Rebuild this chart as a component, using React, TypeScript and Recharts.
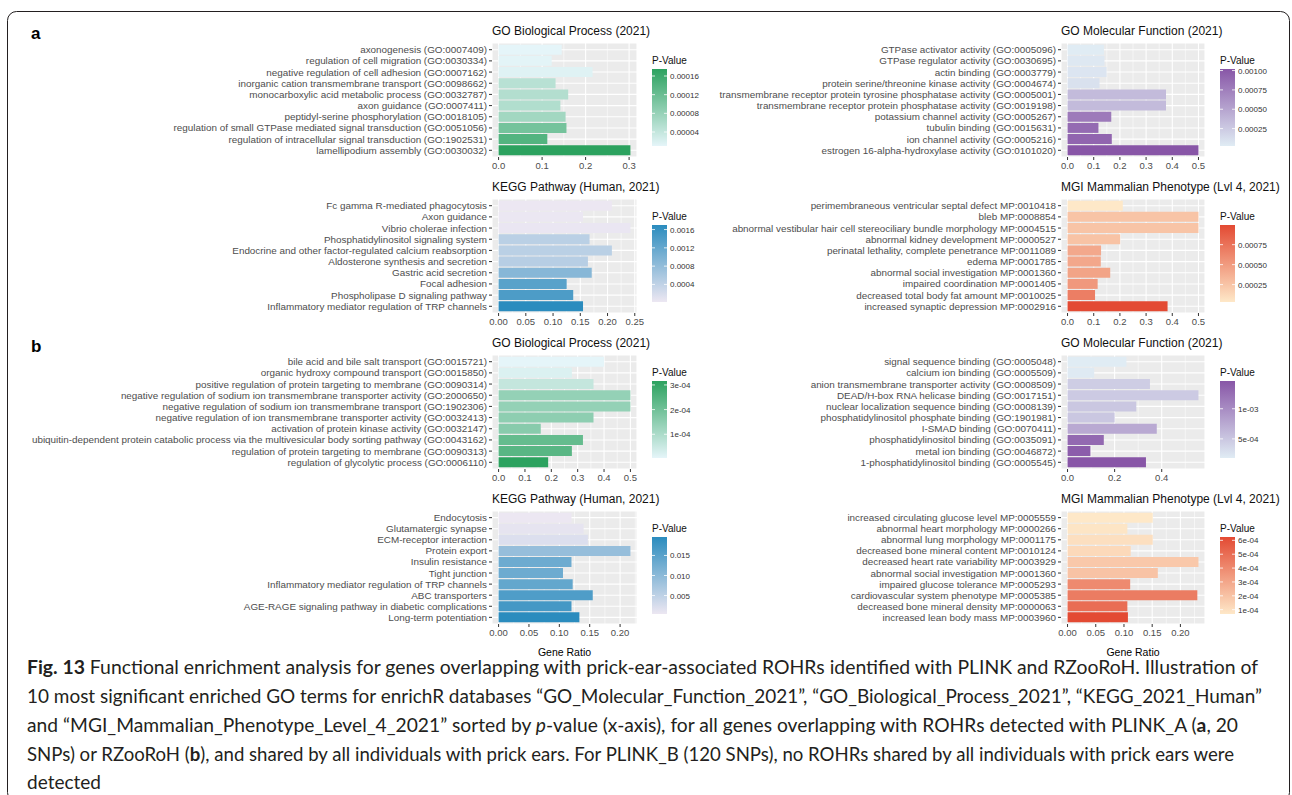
import React from 'react';
import { BarChart, Bar, XAxis, YAxis, CartesianGrid, Cell, Label } from 'recharts';

// ---------------- data: (a) PLINK_A ----------------
const aBpTerms = [
  'axonogenesis (GO:0007409)',
  'regulation of cell migration (GO:0030334)',
  'negative regulation of cell adhesion (GO:0007162)',
  'inorganic cation transmembrane transport (GO:0098662)',
  'monocarboxylic acid metabolic process (GO:0032787)',
  'axon guidance (GO:0007411)',
  'peptidyl-serine phosphorylation (GO:0018105)',
  'regulation of small GTPase mediated signal transduction (GO:0051056)',
  'regulation of intracellular signal transduction (GO:1902531)',
  'lamellipodium assembly (GO:0030032)',
];
const aBpRatio = [0.145, 0.122, 0.216, 0.131, 0.16, 0.142, 0.154, 0.156, 0.112, 0.303];
const aBpPval = [0.00001, 0.000012, 0.000015, 0.00005, 0.000055, 0.000056, 0.00007, 0.00011, 0.00014, 0.000175];

const aMfTerms = [
  'GTPase activator activity (GO:0005096)',
  'GTPase regulator activity (GO:0030695)',
  'actin binding (GO:0003779)',
  'protein serine/threonine kinase activity (GO:0004674)',
  'transmembrane receptor protein tyrosine phosphatase activity (GO:0005001)',
  'transmembrane receptor protein phosphatase activity (GO:0019198)',
  'potassium channel activity (GO:0005267)',
  'tubulin binding (GO:0015631)',
  'ion channel activity (GO:0005216)',
  'estrogen 16-alpha-hydroxylase activity (GO:0101020)',
];
const aMfRatio = [0.139, 0.141, 0.149, 0.122, 0.376, 0.376, 0.167, 0.118, 0.169, 0.5];
const aMfPval = [0.000025, 0.00005, 0.00007, 0.0001, 0.00035, 0.00035, 0.00078, 0.00088, 0.00092, 0.00102];

const aKeggTerms = [
  'Fc gamma R-mediated phagocytosis',
  'Axon guidance',
  'Vibrio cholerae infection',
  'Phosphatidylinositol signaling system',
  'Endocrine and other factor-regulated calcium reabsorption',
  'Aldosterone synthesis and secretion',
  'Gastric acid secretion',
  'Focal adhesion',
  'Phospholipase D signaling pathway',
  'Inflammatory mediator regulation of TRP channels',
];
const aKeggRatio = [0.208, 0.155, 0.242, 0.167, 0.208, 0.164, 0.171, 0.125, 0.137, 0.155];
const aKeggPval = [0.000015, 0.00002, 0.00003, 0.00045, 0.00045, 0.00048, 0.0009, 0.0013, 0.0014, 0.0017];

const aMgiTerms = [
  'perimembraneous ventricular septal defect MP:0010418',
  'bleb MP:0008854',
  'abnormal vestibular hair cell stereociliary bundle morphology MP:0004515',
  'abnormal kidney development MP:0000527',
  'perinatal lethality, complete penetrance MP:0011089',
  'edema MP:0001785',
  'abnormal social investigation MP:0001360',
  'impaired coordination MP:0001405',
  'decreased total body fat amount MP:0010025',
  'increased synaptic depression MP:0002916',
];
const aMgiRatio = [0.211, 0.5, 0.5, 0.201, 0.128, 0.127, 0.163, 0.115, 0.105, 0.382];
const aMgiPval = [0.0000325, 0.00025, 0.00025, 0.00026, 0.00042, 0.00043, 0.00045, 0.00052, 0.00068, 0.000996];

// ---------------- data: (b) RZooRoH ----------------
const bBpTerms = [
  'bile acid and bile salt transport (GO:0015721)',
  'organic hydroxy compound transport (GO:0015850)',
  'positive regulation of protein targeting to membrane (GO:0090314)',
  'negative regulation of sodium ion transmembrane transporter activity (GO:2000650)',
  'negative regulation of sodium ion transmembrane transport (GO:1902306)',
  'negative regulation of ion transmembrane transporter activity (GO:0032413)',
  'activation of protein kinase activity (GO:0032147)',
  'ubiquitin-dependent protein catabolic process via the multivesicular body sorting pathway (GO:0043162)',
  'regulation of protein targeting to membrane (GO:0090313)',
  'regulation of glycolytic process (GO:0006110)',
];
const bBpRatio = [0.4, 0.278, 0.36, 0.5, 0.5, 0.36, 0.16, 0.32, 0.278, 0.188];
const bBpPval = [0.0000037, 0.00002, 0.00006, 0.00014, 0.00014, 0.00015, 0.00016, 0.00022, 0.00024, 0.000316];

const bMfTerms = [
  'signal sequence binding (GO:0005048)',
  'calcium ion binding (GO:0005509)',
  'anion transmembrane transporter activity (GO:0008509)',
  'DEAD/H-box RNA helicase binding (GO:0017151)',
  'nuclear localization sequence binding (GO:0008139)',
  'phosphatidylinositol phosphate binding (GO:1901981)',
  'I-SMAD binding (GO:0070411)',
  'phosphatidylinositol binding (GO:0035091)',
  'metal ion binding (GO:0046872)',
  '1-phosphatidylinositol binding (GO:0005545)',
];
const bMfRatio = [0.25, 0.113, 0.35, 0.556, 0.292, 0.2, 0.379, 0.154, 0.097, 0.333];
const bMfPval = [0.000183, 0.0002, 0.00045, 0.00047, 0.0005, 0.0005, 0.00075, 0.0013, 0.0014, 0.00146];

const bKeggTerms = [
  'Endocytosis',
  'Glutamatergic synapse',
  'ECM-receptor interaction',
  'Protein export',
  'Insulin resistance',
  'Tight junction',
  'Inflammatory mediator regulation of TRP channels',
  'ABC transporters',
  'AGE-RAGE signaling pathway in diabetic complications',
  'Long-term potentiation',
];
const bKeggRatio = [0.12, 0.14, 0.147, 0.217, 0.12, 0.106, 0.122, 0.155, 0.12, 0.133];
const bKeggPval = [0.0004, 0.001, 0.002, 0.009, 0.013, 0.013, 0.014, 0.016, 0.017, 0.0196];

const bMgiTerms = [
  'increased circulating glucose level MP:0005559',
  'abnormal heart morphology MP:0000266',
  'abnormal lung morphology MP:0001175',
  'decreased bone mineral content MP:0010124',
  'decreased heart rate variability MP:0003929',
  'abnormal social investigation MP:0001360',
  'impaired glucose tolerance MP:0005293',
  'cardiovascular system phenotype MP:0005385',
  'decreased bone mineral density MP:0000063',
  'increased lean body mass MP:0003960',
];
const bMgiRatio = [0.151, 0.106, 0.151, 0.112, 0.232, 0.16, 0.111, 0.23, 0.106, 0.107];
const bMgiPval = [0.000069, 0.00008, 0.0001, 0.00012, 0.00018, 0.0002, 0.0004, 0.00045, 0.0005, 0.000624];

// ---------------- axis ticks ----------------
const ticksTenth3 = [0, 0.1, 0.2, 0.3];
const labelsTenth3 = ['0.0', '0.1', '0.2', '0.3'];
const minorTenth3 = [0.05, 0.15, 0.25];
const ticksTenth5 = [0, 0.1, 0.2, 0.3, 0.4, 0.5];
const labelsTenth5 = ['0.0', '0.1', '0.2', '0.3', '0.4', '0.5'];
const minorTenth5 = [0.05, 0.15, 0.25, 0.35, 0.45];
const ticksFifth = [0, 0.2, 0.4];
const labelsFifth = ['0.0', '0.2', '0.4'];
const minorFifth = [0.1, 0.3, 0.5];
const ticksTwentieth5 = [0, 0.05, 0.1, 0.15, 0.2, 0.25];
const labelsTwentieth5 = ['0.00', '0.05', '0.10', '0.15', '0.20', '0.25'];
const minorTwentieth5 = [0.025, 0.075, 0.125, 0.175, 0.225];
const ticksTwentieth4 = [0, 0.05, 0.1, 0.15, 0.2];
const labelsTwentieth4 = ['0.00', '0.05', '0.10', '0.15', '0.20'];
const minorTwentieth4 = [0.025, 0.075, 0.125, 0.175, 0.225];

// colour-bar breaks
const aBpLegTicks = [0.00004, 0.00008, 0.00012, 0.00016];
const aBpLegLabels = ['0.00004', '0.00008', '0.00012', '0.00016'];
const aMfLegTicks = [0.00025, 0.0005, 0.00075, 0.001];
const aMfLegLabels = ['0.00025', '0.00050', '0.00075', '0.00100'];
const aKeggLegTicks = [0.0004, 0.0008, 0.0012, 0.0016];
const aKeggLegLabels = ['0.0004', '0.0008', '0.0012', '0.0016'];
const aMgiLegTicks = [0.00025, 0.0005, 0.00075];
const aMgiLegLabels = ['0.00025', '0.00050', '0.00075'];
const bBpLegTicks = [0.0001, 0.0002, 0.0003];
const bBpLegLabels = ['1e-04', '2e-04', '3e-04'];
const bMfLegTicks = [0.0005, 0.001];
const bMfLegLabels = ['5e-04', '1e-03'];
const bKeggLegTicks = [0.005, 0.01, 0.015];
const bKeggLegLabels = ['0.005', '0.010', '0.015'];
const bMgiLegTicks = [0.0001, 0.0002, 0.0003, 0.0004, 0.0005, 0.0006];
const bMgiLegLabels = ['1e-04', '2e-04', '3e-04', '4e-04', '5e-04', '6e-04'];

// sequential palettes (low -> high p-value)
const GREEN = ['#e5f5f9', '#2ca25f'];
const PURPLE = ['#e0ecf4', '#8856a7'];
const BLUE = ['#ece7f2', '#2b8cbe'];
const ORANGE = ['#fee8c8', '#e34a33'];

// ---------------- helpers ----------------
const FONT = '"Liberation Sans", Arial, Helvetica, sans-serif';

function hexToRgb(hex: string): number[] {
  const n = parseInt(hex.slice(1), 16);
  return [(n >> 16) & 255, (n >> 8) & 255, n & 255];
}

function mixColor(lo: string, hi: string, t: number): string {
  const a = hexToRgb(lo);
  const b = hexToRgb(hi);
  const c = a.map((v, i) => Math.round(v + (b[i] - v) * Math.max(0, Math.min(1, t))));
  return `rgb(${c[0]},${c[1]},${c[2]})`;
}

// category label drawn as a single line, right-aligned against the tick
function TermTick(props: any) {
  const { x, y, payload } = props;
  return (
    <text x={x} y={y} dy="0.35em" textAnchor="end" fontSize={9.9} fill="#4D4D4D" fontFamily={FONT}>
      {payload.value}
    </text>
  );
}

type PanelLayout = {
  chartLeft: number;
  plotLeft: number;
  plotWidth: number;
  plotTop: number;
  plotHeight: number;
  legendLeft: number;
  xTitle?: boolean;
};

type PanelProps = {
  id: string;
  title: string;
  terms: string[];
  ratio: number[];
  pval: number[];
  ticks: number[];
  tickLabels: string[];
  minor: number[];
  legTicks: number[];
  legLabels: string[];
  palette: string[];
  layout: PanelLayout;
};

function EnrichPanel(props: PanelProps) {
  const { id, title, terms, ratio, pval, ticks, tickLabels, minor, legTicks, legLabels, palette, layout } = props;
  const rows = terms.map((term, i) => ({ term, ratio: ratio[i], p: pval[i] }));
  const rMax = Math.max(...ratio);
  const pMin = Math.min(...pval);
  const pMax = Math.max(...pval);
  const yW = layout.plotLeft - layout.chartLeft;
  const rightPad = 14;
  const xAxisH = layout.xTitle ? 34 : 20;
  const w = yW + layout.plotWidth + rightPad;
  const h = layout.plotHeight + xAxisH;
  const pad = layout.plotHeight / 102;
  const fillFor = (p: number) => mixColor(palette[0], palette[1], (p - pMin) / (pMax - pMin));
  const barTop = 26;
  const barH = 77;
  const gid = `grad-${id}`;

  return (
    <>
      <div style={{ position: 'absolute', left: layout.chartLeft, top: layout.plotTop }}>
        <BarChart
          width={w}
          height={h}
          data={rows}
          layout="vertical"
          margin={{ top: 0, right: rightPad, bottom: 0, left: 0 }}
          barCategoryGap="5%"
          style={{ fontFamily: FONT }}
        >
          <CartesianGrid fill="#EBEBEB" fillOpacity={1} stroke="#FFFFFF" strokeWidth={1.1} />
          <CartesianGrid horizontal={false} verticalValues={minor} stroke="#FFFFFF" strokeWidth={0.55} />
          <XAxis
            type="number"
            dataKey="ratio"
            domain={[-0.05 * rMax, 1.05 * rMax]}
            allowDataOverflow
            ticks={ticks}
            interval={0}
            tickFormatter={(v: number) => tickLabels[ticks.indexOf(v)] ?? ''}
            axisLine={false}
            tickLine={{ stroke: '#333333' }}
            tickSize={3}
            tickMargin={2}
            tick={{ fill: '#4D4D4D', fontSize: 9.5 }}
            height={xAxisH}
          >
            {layout.xTitle ? (
              <Label value="Gene Ratio" position="insideBottom" offset={2} style={{ fill: '#000', fontSize: 10.5 }} />
            ) : null}
          </XAxis>
          <YAxis
            type="category"
            dataKey="term"
            width={yW}
            interval={0}
            axisLine={false}
            tickLine={{ stroke: '#333333' }}
            tickSize={3}
            tickMargin={2}
            tick={<TermTick />}
            padding={{ top: pad, bottom: pad }}
          />
          <Bar dataKey="ratio" isAnimationActive={false}>
            {rows.map((r, i) => (
              <Cell key={i} fill={fillFor(r.p)} />
            ))}
          </Bar>
        </BarChart>
      </div>
      <div
        style={{
          position: 'absolute',
          left: layout.plotLeft,
          top: layout.plotTop - 19,
          fontFamily: FONT,
          fontSize: 12,
          color: '#111',
          whiteSpace: 'nowrap',
          lineHeight: '14px',
        }}
      >
        {title}
      </div>
      <svg
        width={80}
        height={112}
        style={{ position: 'absolute', left: layout.legendLeft, top: layout.plotTop, fontFamily: FONT, overflow: 'visible' }}
      >
        <defs>
          <linearGradient id={gid} x1="0" y1="1" x2="0" y2="0">
            <stop offset="0" stopColor={palette[0]} />
            <stop offset="1" stopColor={palette[1]} />
          </linearGradient>
        </defs>
        <text x={0} y={20.5} fontSize={10} fill="#111">P-Value</text>
        <rect x={0} y={barTop} width={15} height={barH} fill={`url(#${gid})`} />
        {legTicks.map((v, i) => {
          const y = barTop + ((pMax - v) / (pMax - pMin)) * barH;
          return (
            <g key={i}>
              <line x1={0} x2={3} y1={y} y2={y} stroke="#fff" strokeWidth={0.8} />
              <line x1={12} x2={15} y1={y} y2={y} stroke="#fff" strokeWidth={0.8} />
              <text x={18} y={y + 3} fontSize={8} fill="#333">{legLabels[i]}</text>
            </g>
          );
        })}
      </svg>
    </>
  );
}

// ---------------- layout ----------------
const LEFT = { chartLeft: 0, plotLeft: 492, plotWidth: 145, legendLeft: 652 };
const RIGHT = { chartLeft: 560, plotLeft: 1061, plotWidth: 144, legendLeft: 1220 };
const ROW_TOPS = [43, 199, 355, 511];
const PLOT_H = 114;

const captionStyle: React.CSSProperties = { whiteSpace: 'pre' };

export default function App() {
  return (
    <div style={{ position: 'absolute', left: 0, top: 0, width: 1292, height: 795, background: '#fff', overflow: 'hidden' }}>
      <svg width={1292} height={795} style={{ position: 'absolute', left: 0, top: 0 }}>
        <rect x={7.5} y={11.5} width={1282} height={790} rx={9} ry={9} fill="none" stroke="#231f20" strokeWidth={1} />
        <text x={31} y={38.5} fontFamily={FONT} fontWeight="bold" fontSize={17} fill="#000">a</text>
        <text x={31} y={352} fontFamily={FONT} fontWeight="bold" fontSize={17} fill="#000">b</text>
        <g fontFamily="Lato, 'Open Sans', sans-serif" fontSize={19.5} fill="#231f20" style={captionStyle}>
          <text x={27} y={674} textLength={1231} lengthAdjust="spacingAndGlyphs">
            <tspan fontWeight="bold">Fig. 13</tspan>
            {'  Functional enrichment analysis for genes overlapping with prick-ear-associated ROHRs identified with PLINK and RZooRoH. Illustration of'}
          </text>
          <text x={27} y={703} textLength={1235} lengthAdjust="spacingAndGlyphs">
            {'10 most significant enriched GO terms for enrichR databases \u201cGO_Molecular_Function_2021\u201d, \u201cGO_Biological_Process_2021\u201d, \u201cKEGG_2021_Human\u201d'}
          </text>
          <text x={27} y={732} textLength={1211} lengthAdjust="spacingAndGlyphs">
            {'and \u201cMGI_Mammalian_Phenotype_Level_4_2021\u201d sorted by '}
            <tspan fontStyle="italic">p</tspan>
            {'-value (x-axis), for all genes overlapping with ROHRs detected with PLINK_A ('}
            <tspan fontWeight="bold">a</tspan>
            {', 20'}
          </text>
          <text x={27} y={761} textLength={1207} lengthAdjust="spacingAndGlyphs">
            {'SNPs) or RZooRoH ('}
            <tspan fontWeight="bold">b</tspan>
            {'), and shared by all individuals with prick ears. For PLINK_B (120 SNPs), no ROHRs shared by all individuals with prick ears were'}
          </text>
          <text x={27} y={789} textLength={74} lengthAdjust="spacingAndGlyphs">detected</text>
        </g>
      </svg>

      <EnrichPanel id="aBp" title="GO Biological Process (2021)" terms={aBpTerms} ratio={aBpRatio} pval={aBpPval}
        ticks={ticksTenth3} tickLabels={labelsTenth3} minor={minorTenth3} legTicks={aBpLegTicks} legLabels={aBpLegLabels}
        palette={GREEN} layout={{ ...LEFT, plotTop: ROW_TOPS[0], plotHeight: PLOT_H }} />
      <EnrichPanel id="aMf" title="GO Molecular Function (2021)" terms={aMfTerms} ratio={aMfRatio} pval={aMfPval}
        ticks={ticksTenth5} tickLabels={labelsTenth5} minor={minorTenth5} legTicks={aMfLegTicks} legLabels={aMfLegLabels}
        palette={PURPLE} layout={{ ...RIGHT, plotTop: ROW_TOPS[0], plotHeight: PLOT_H }} />
      <EnrichPanel id="aKegg" title="KEGG Pathway (Human, 2021)" terms={aKeggTerms} ratio={aKeggRatio} pval={aKeggPval}
        ticks={ticksTwentieth5} tickLabels={labelsTwentieth5} minor={minorTwentieth5} legTicks={aKeggLegTicks} legLabels={aKeggLegLabels}
        palette={BLUE} layout={{ ...LEFT, plotTop: ROW_TOPS[1], plotHeight: PLOT_H }} />
      <EnrichPanel id="aMgi" title="MGI Mammalian Phenotype (Lvl 4, 2021)" terms={aMgiTerms} ratio={aMgiRatio} pval={aMgiPval}
        ticks={ticksTenth5} tickLabels={labelsTenth5} minor={minorTenth5} legTicks={aMgiLegTicks} legLabels={aMgiLegLabels}
        palette={ORANGE} layout={{ ...RIGHT, plotTop: ROW_TOPS[1], plotHeight: PLOT_H }} />

      <EnrichPanel id="bBp" title="GO Biological Process (2021)" terms={bBpTerms} ratio={bBpRatio} pval={bBpPval}
        ticks={ticksTenth5} tickLabels={labelsTenth5} minor={minorTenth5} legTicks={bBpLegTicks} legLabels={bBpLegLabels}
        palette={GREEN} layout={{ ...LEFT, plotTop: ROW_TOPS[2], plotHeight: PLOT_H }} />
      <EnrichPanel id="bMf" title="GO Molecular Function (2021)" terms={bMfTerms} ratio={bMfRatio} pval={bMfPval}
        ticks={ticksFifth} tickLabels={labelsFifth} minor={minorFifth} legTicks={bMfLegTicks} legLabels={bMfLegLabels}
        palette={PURPLE} layout={{ ...RIGHT, plotTop: ROW_TOPS[2], plotHeight: PLOT_H }} />
      <EnrichPanel id="bKegg" title="KEGG Pathway (Human, 2021)" terms={bKeggTerms} ratio={bKeggRatio} pval={bKeggPval}
        ticks={ticksTwentieth4} tickLabels={labelsTwentieth4} minor={minorTwentieth4} legTicks={bKeggLegTicks} legLabels={bKeggLegLabels}
        palette={BLUE} layout={{ ...LEFT, plotTop: ROW_TOPS[3], plotHeight: 113, xTitle: true }} />
      <EnrichPanel id="bMgi" title="MGI Mammalian Phenotype (Lvl 4, 2021)" terms={bMgiTerms} ratio={bMgiRatio} pval={bMgiPval}
        ticks={ticksTwentieth4} tickLabels={labelsTwentieth4} minor={minorTwentieth4} legTicks={bMgiLegTicks} legLabels={bMgiLegLabels}
        palette={ORANGE} layout={{ ...RIGHT, plotTop: ROW_TOPS[3], plotHeight: 113, xTitle: true }} />
    </div>
  );
}
